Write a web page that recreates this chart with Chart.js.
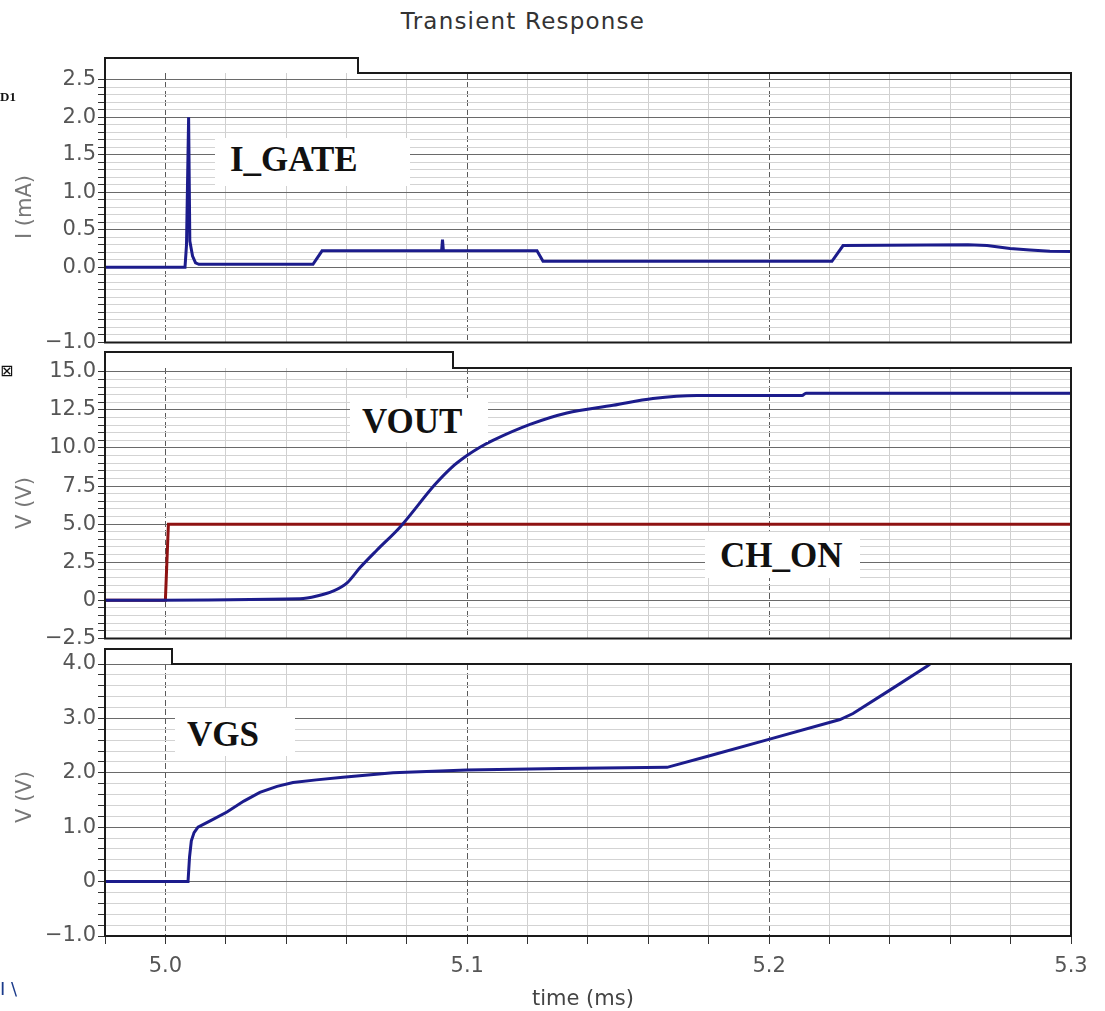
<!DOCTYPE html>
<html>
<head>
<meta charset="utf-8">
<title>Transient Response</title>
<script src="https://cdn.jsdelivr.net/npm/chart.js@4.4.0/dist/chart.umd.min.js"></script>
<style>
  html, body { margin: 0; padding: 0; background: #fff; }
  body { position: relative; width: 1105px; height: 1011px; overflow: hidden; font-family: "DejaVu Sans", sans-serif; }
  .panel { position: absolute; left: 0; width: 1105px; }
  #title { position: absolute; left: 0; top: 8px; width: 1046px; text-align: center; font-size: 23px; letter-spacing: 1.2px; color: #333; }
  .tag { position: absolute; background: #fff; box-sizing: border-box; font-family: "Liberation Serif", "Times New Roman", serif; font-weight: bold; font-size: 35px; line-height: 35px; color: #111; white-space: nowrap; }
  .ytitle { position: absolute; transform: translate(-50%, -50%) rotate(-90deg); font-size: 21px; color: #777; white-space: nowrap; }
  .xtitle { position: absolute; left: 532px; top: 986px; font-size: 21px; color: #444; }
  .stray { position: absolute; left: 0; white-space: nowrap; }
</style>
</head>
<body>
<div id="title">Transient Response</div>

<div class="panel" style="top:43px;height:314px"><canvas id="gateChart"></canvas></div>
<div class="panel" style="top:338px;height:315px"><canvas id="voutChart"></canvas></div>
<div class="panel" style="top:634px;height:377px"><canvas id="vgsChart"></canvas></div>

<!-- curve labels, white boxes like the waveform viewer -->
<div class="tag" style="left:215px;top:138px;width:195px;height:48px;padding:4px 0 0 15px">I_GATE</div>
<div class="tag" style="left:350px;top:398px;width:138px;height:44px;padding:6px 0 0 12px">VOUT</div>
<div class="tag" style="left:705px;top:532px;width:155px;height:46px;padding:6px 0 0 15px">CH_ON</div>
<div class="tag" style="left:175px;top:708px;width:120px;height:48px;padding:9px 0 0 12px">VGS</div>

<!-- axis titles -->
<div class="ytitle" style="left:24px;top:207px">I (mA)</div>
<div class="ytitle" style="left:24px;top:503px">V (V)</div>
<div class="ytitle" style="left:24px;top:797px">V (V)</div>
<div class="xtitle">time (ms)</div>

<!-- bits of the viewer window left of the plot -->
<div class="stray" style="top:89px;font:bold 13px 'Liberation Serif', serif;color:#111">D1</div>
<div class="stray" style="top:361px;font-size:16px;color:#111">⊠</div>
<div class="stray" style="top:978px;font-size:18px;color:#1a3a8a">I \</div>

<script>
// Time axis (ms)
const timeTicks = [5.0, 5.1, 5.2, 5.3];
const timeTickLabels = ['5.0', '5.1', '5.2', '5.3'];

// I_GATE (mA)
const gateTime = [4.98, 5.0065, 5.0070, 5.0077, 5.0081, 5.0090, 5.0100, 5.0111, 5.0489, 5.0519, 5.0915, 5.0918, 5.0921, 5.1231, 5.1251, 5.2208, 5.2245, 5.2659, 5.2722, 5.2798, 5.2864, 5.2930, 5.3];
const gateCurrent = [0, 0, 0.30, 2.0, 0.35, 0.15, 0.06, 0.04, 0.04, 0.22, 0.22, 0.37, 0.22, 0.22, 0.08, 0.08, 0.29, 0.30, 0.29, 0.25, 0.23, 0.215, 0.21];
const gateTicks = [-1.0, 0.0, 0.5, 1.0, 1.5, 2.0, 2.5];
const gateTickLabels = ['−1.0', '0.0', '0.5', '1.0', '1.5', '2.0', '2.5'];

// VOUT and CH_ON (V)
const voutTime = [4.98, 5.0446, 5.0502, 5.0555, 5.0602, 5.0645, 5.0701, 5.0777, 5.0893, 5.0947, 5.0999, 5.1042, 5.1085, 5.1208, 5.1330, 5.1483, 5.1615, 5.1761, 5.2109, 5.2122, 5.3];
const voutVolts = [0, 0.1, 0.28, 0.6, 1.15, 2.15, 3.3, 4.8, 7.6, 8.7, 9.5, 10.05, 10.5, 11.55, 12.3, 12.8, 13.25, 13.45, 13.45, 13.6, 13.6];
const chOnTime = [4.98, 5.0, 5.001, 5.3];
const chOnVolts = [0, 0, 5.0, 5.0];
const voutTicks = [-2.5, 0, 2.5, 5.0, 7.5, 10.0, 12.5, 15.0];
const voutTickLabels = ['−2.5', '0', '2.5', '5.0', '7.5', '10.0', '12.5', '15.0'];

// VGS (V)
const vgsTime = [4.98, 5.0075, 5.0080, 5.0086, 5.0095, 5.0108, 5.0150, 5.0204, 5.0260, 5.0313, 5.0370, 5.0423, 5.0500, 5.0588, 5.0754, 5.0999, 5.1307, 5.1662, 5.1794, 5.1996, 5.2235, 5.2278, 5.2400, 5.2523, 5.2533];
const vgsVolts = [0, 0, 0.45, 0.75, 0.9, 1.0, 1.12, 1.28, 1.48, 1.64, 1.75, 1.82, 1.87, 1.92, 2.0, 2.05, 2.08, 2.1, 2.3, 2.61, 2.98, 3.09, 3.52, 3.96, 4.0];
const vgsTicks = [-1.0, 0, 1.0, 2.0, 3.0, 4.0];
const vgsTickLabels = ['−1.0', '0', '1.0', '2.0', '3.0', '4.0'];

const BLUE = '#1c1c8c';
const RED = '#8e1212';
const LABEL_FONT = { family: 'DejaVu Sans', size: 21 };

function toPoints(xs, ys) {
    return xs.map((x, i) => ({ x: x, y: ys[i] }));
}

function onList(list, v) {
    return list.some(m => Math.abs(m - v) < 1e-6);
}

// evenly spaced ticks, majors get labels, the rest only draw grid lines
function stepTicks(min, max, step) {
    const out = [];
    const n = Math.round((max - min) / step);
    for (let i = 0; i <= n; i++) out.push({ value: Math.round((min + i * step) * 1e6) / 1e6 });
    return out;
}

function labelFor(list, labels, v) {
    const i = list.findIndex(m => Math.abs(m - v) < 1e-6);
    return i < 0 ? '' : labels[i];
}

// frame with the little title tab of the viewer subwindow
const framePlugin = {
    id: 'frame',
    afterDraw(chart, args, opts) {
        const { ctx, chartArea: a } = chart;
        const tabTop = a.top - opts.tabHeight;
        const tabRight = a.left + opts.tabWidth;
        ctx.save();
        ctx.strokeStyle = '#1a1a1a';
        ctx.lineWidth = 2;
        ctx.beginPath();
        ctx.moveTo(a.left, a.bottom);
        ctx.lineTo(a.left, tabTop);
        ctx.lineTo(tabRight, tabTop);
        ctx.lineTo(tabRight, a.top);
        ctx.lineTo(a.right, a.top);
        ctx.lineTo(a.right, a.bottom);
        ctx.closePath();
        ctx.stroke();
        ctx.restore();
    }
};

function xScale(showLabels) {
    return {
        type: 'linear',
        min: 4.98,
        max: 5.3,
        afterBuildTicks: s => { s.ticks = stepTicks(4.98, 5.3, 0.02); },
        afterFit: s => { s.height = showLabels ? 75 : 0; },
        border: {
            display: false,
            dash: ctx => (ctx.tick && onList(timeTicks, ctx.tick.value) && ctx.tick.value < 5.29) ? [6, 3] : []
        },
        grid: {
            color: ctx => (ctx.tick && onList(timeTicks, ctx.tick.value)) ? '#5a5a5a' : '#d0d0d0',
            lineWidth: 1,
            drawTicks: showLabels,
            tickLength: 8,
            tickColor: '#333'
        },
        ticks: {
            display: showLabels,
            autoSkip: false,
            maxRotation: 0,
            padding: 10,
            color: '#555',
            font: LABEL_FONT,
            callback: v => labelFor(timeTicks, timeTickLabels, v)
        }
    };
}

function yScale(min, max, tickMin, tickMax, minorStep, majors, labels) {
    return {
        type: 'linear',
        min: min,
        max: max,
        afterBuildTicks: s => { s.ticks = stepTicks(tickMin, tickMax, minorStep); },
        afterFit: s => { s.width = 105; },
        border: { display: false },
        grid: {
            color: ctx => (ctx.tick && onList(majors, ctx.tick.value)) ? '#6a6a6a' : '#d3d3d3',
            lineWidth: 1,
            tickLength: 7,
            tickColor: '#333'
        },
        ticks: {
            autoSkip: false,
            padding: 2,
            color: '#555',
            font: LABEL_FONT,
            callback: v => labelFor(majors, labels, v)
        }
    };
}

function lineSet(xs, ys, color, smooth) {
    return {
        data: toPoints(xs, ys),
        showLine: true,
        borderColor: color,
        backgroundColor: color,
        borderWidth: 3,
        pointRadius: 0,
        cubicInterpolationMode: smooth ? 'monotone' : 'default',
        tension: 0
    };
}

function makePanel(id, datasets, yOpts, showX, pad, tab) {
    return new Chart(document.getElementById(id), {
        type: 'scatter',
        data: { datasets: datasets },
        options: {
            responsive: true,
            maintainAspectRatio: false,
            animation: false,
            layout: { padding: pad },
            plugins: {
                legend: { display: false },
                tooltip: { enabled: false },
                frame: tab
            },
            scales: { x: xScale(showX), y: yOpts }
        },
        plugins: [framePlugin]
    });
}

makePanel('gateChart',
    [lineSet(gateTime, gateCurrent, BLUE, false)],
    yScale(-1.0, 2.59, -1.0, 2.5, 0.1, gateTicks, gateTickLabels),
    false, { top: 30, bottom: 12, left: 0, right: 34 }, { tabHeight: 15, tabWidth: 253 });

makePanel('voutChart',
    [lineSet(voutTime, voutVolts, BLUE, true), lineSet(chOnTime, chOnVolts, RED, false)],
    yScale(-2.5, 15.25, -2.5, 15.0, 0.5, voutTicks, voutTickLabels),
    false, { top: 30, bottom: 12, left: 0, right: 34 }, { tabHeight: 16, tabWidth: 348 });

makePanel('vgsChart',
    [lineSet(vgsTime, vgsVolts, BLUE, false)],
    yScale(-1.0, 4.0, -1.0, 4.0, 0.2, vgsTicks, vgsTickLabels),
    true, { top: 30, bottom: 0, left: 0, right: 34 }, { tabHeight: 15, tabWidth: 67 });
</script>
</body>
</html>
